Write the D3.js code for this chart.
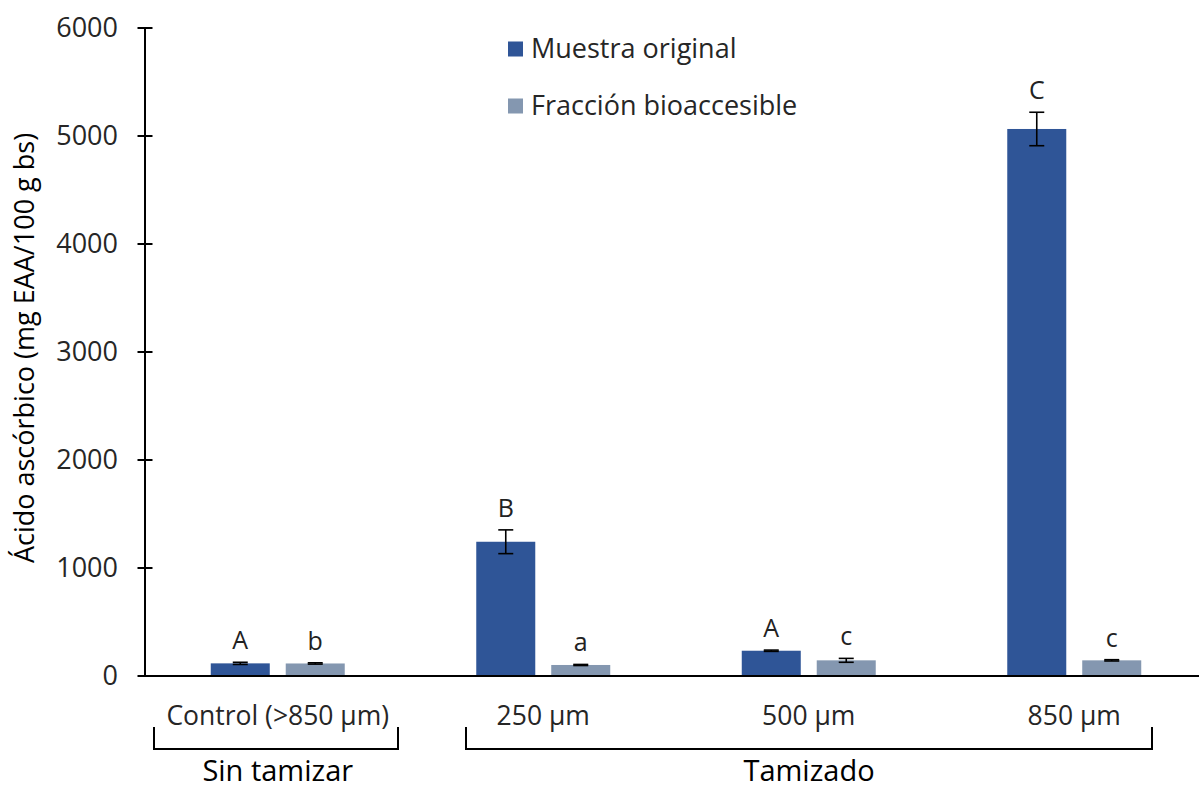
<!DOCTYPE html>
<html>
<head>
<meta charset="utf-8">
<script src="https://cdn.jsdelivr.net/npm/d3@7"></script>
<style>
  html, body { margin: 0; padding: 0; background: #fff; }
  svg { display: block; font-family: "Open Sans", "Noto Sans", sans-serif; }
</style>
</head>
<body>
<svg id="chart" width="1199" height="790"></svg>
<script>
const categories = ["Control (>850 µm)", "250 µm", "500 µm", "850 µm"];
const seriesNames = ["Muestra original", "Fracción bioaccesible"];
const original = [117, 1243, 234, 5065];
const originalErr = [10, 110, 6, 155];
const bioaccesible = [116, 102, 145, 145];
const bioaccesibleErr = [6, 5, 18, 6];
const originalLetters = ["A", "B", "A", "C"];
const bioaccesibleLetters = ["b", "a", "c", "c"];
const yTicks = [0, 1000, 2000, 3000, 4000, 5000, 6000];
const groups = [
  { label: "Sin tamizar", from: 0, to: 0 },
  { label: "Tamizado", from: 1, to: 3 }
];
const colors = ["#2F5597", "#8497B0"];
const yTitle = "Ácido ascórbico (mg EAA/100 g bs)";

const svg = d3.select("#chart");
const x0 = 145, x1 = 1207, yTop = 28, yBase = 676;

const x = d3.scaleBand().domain(categories).range([x0, x1]).paddingInner(0).paddingOuter(0);
const xs = d3.scaleBand().domain(seriesNames).range([0, x.bandwidth()]).paddingInner(0.213).paddingOuter(0.877);
const y = d3.scaleLinear().domain([0, 6000]).range([yBase, yTop]);

const data = [];
categories.forEach((c, i) => {
  data.push({ cat: c, s: seriesNames[0], v: original[i], e: originalErr[i], l: originalLetters[i], col: colors[0] });
  data.push({ cat: c, s: seriesNames[1], v: bioaccesible[i], e: bioaccesibleErr[i], l: bioaccesibleLetters[i], col: colors[1] });
});

// bars
svg.append("g").selectAll("rect").data(data).join("rect")
  .attr("x", d => x(d.cat) + xs(d.s))
  .attr("width", xs.bandwidth())
  .attr("y", d => y(d.v))
  .attr("height", d => y(0) - y(d.v))
  .attr("fill", d => d.col);

// error bars
const eb = svg.append("g").attr("stroke", "#000").attr("stroke-width", 1.6);
data.forEach(d => {
  const cx = x(d.cat) + xs(d.s) + xs.bandwidth() / 2;
  const t = y(d.v + d.e), b = y(d.v - d.e);
  eb.append("line").attr("x1", cx).attr("x2", cx).attr("y1", t).attr("y2", b);
  eb.append("line").attr("x1", cx - 7.5).attr("x2", cx + 7.5).attr("y1", t).attr("y2", t);
  eb.append("line").attr("x1", cx - 7.5).attr("x2", cx + 7.5).attr("y1", b).attr("y2", b);
});

// letters
svg.append("g").selectAll("text").data(data).join("text")
  .attr("x", d => x(d.cat) + xs(d.s) + xs.bandwidth() / 2)
  .attr("y", d => y(d.v + d.e) - 13)
  .attr("text-anchor", "middle")
  .attr("font-size", 25)
  .attr("fill", "#222")
  .text(d => d.l);

// y axis
const yAxis = d3.axisLeft(y).tickValues(yTicks).tickSize(0).tickPadding(27).tickFormat(d3.format("d"));
const ga = svg.append("g").attr("transform", `translate(${x0},0)`).call(yAxis);
ga.select(".domain").remove();
ga.selectAll("text").attr("font-size", 27).attr("fill", "#262626").attr("font-family", "Open Sans");
svg.append("g").selectAll("line").data(yTicks).join("line")
  .attr("x1", x0 - 7.5).attr("x2", x0 + 7.5)
  .attr("y1", d => y(d)).attr("y2", d => y(d))
  .attr("stroke", "#000").attr("stroke-width", 2);
svg.append("line").attr("x1", x0).attr("x2", x0).attr("y1", y(6000)).attr("y2", y(0))
  .attr("stroke", "#000").attr("stroke-width", 2);
// x axis line
svg.append("line").attr("x1", x0).attr("x2", 1199).attr("y1", y(0)).attr("y2", y(0))
  .attr("stroke", "#000").attr("stroke-width", 2);

// category labels
svg.append("g").selectAll("text").data(categories).join("text")
  .attr("x", d => x(d) + x.bandwidth() / 2)
  .attr("y", 725)
  .attr("text-anchor", "middle")
  .attr("font-size", 26.5)
  .attr("fill", "#262626")
  .text(d => d);

// brackets
const bracketX = [[154, 398], [466, 1152]];
groups.forEach((g, i) => {
  const [bl, br] = bracketX[i];
  svg.append("path")
    .attr("d", `M${bl},727 V749 H${br} V727`)
    .attr("fill", "none").attr("stroke", "#000").attr("stroke-width", 2);
  const cx = (x(categories[g.from]) + x(categories[g.to]) + x.bandwidth()) / 2;
  svg.append("text")
    .attr("x", g.from === g.to ? cx : (bl + br) / 2)
    .attr("y", 781)
    .attr("text-anchor", "middle")
    .attr("font-size", 29)
    .attr("fill", "#000")
    .text(g.label);
});

// y title
svg.append("text")
  .attr("transform", `translate(34,348) rotate(-90)`)
  .attr("text-anchor", "middle")
  .attr("font-size", 27)
  .attr("fill", "#000")
  .text(yTitle);

// legend
const lg = svg.append("g");
seriesNames.forEach((s, i) => {
  const cy = 49 + i * 57;
  lg.append("rect").attr("x", 508).attr("y", cy - 7.5).attr("width", 15).attr("height", 15).attr("fill", colors[i]);
  lg.append("text").attr("x", 531).attr("y", cy).attr("dy", "0.35em")
    .attr("font-size", 27).attr("fill", "#262626").text(s);
});
</script>
</body>
</html>
